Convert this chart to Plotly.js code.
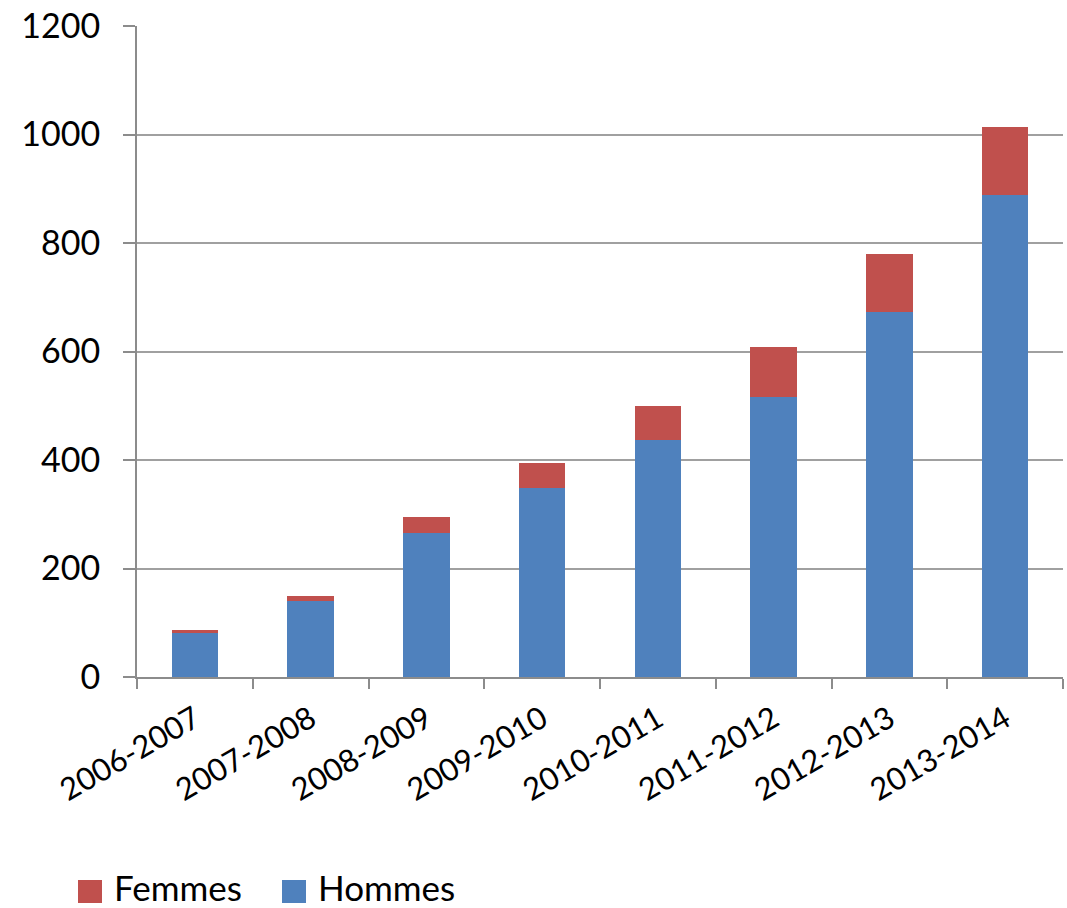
<!DOCTYPE html>
<html>
<head>
<meta charset="utf-8">
<script src="https://cdn.plot.ly/plotly-3.0.1.min.js"></script>
<style>html,body{margin:0;padding:0;background:#fff;}#chart{width:1067px;height:908px;}</style>
</head>
<body>
<div id="chart"></div>
<script>
const categories = ["2006-2007","2007-2008","2008-2009","2009-2010","2010-2011","2011-2012","2012-2013","2013-2014"];
const hommes = [81, 140, 265, 348, 436, 516, 672, 888];
const femmes = [6, 10, 30, 46, 64, 93, 107, 126];
const yTicks = [0, 200, 400, 600, 800, 1000, 1200];
const seriesNames = ["Hommes", "Femmes"];
const seriesColors = ["#4F81BD", "#C0504D"];

const font = "Lato, 'Open Sans', 'Liberation Sans', sans-serif";

const data = [
  {type:'bar', name:seriesNames[0], x:categories, y:hommes, marker:{color:seriesColors[0], line:{width:0}}},
  {type:'bar', name:seriesNames[1], x:categories, y:femmes, marker:{color:seriesColors[1], line:{width:0}}}
];

// Manual legend (larger swatches than Plotly's built-in legend allows)
// plot area: x 137..1063 px, y 26..677 px
const PL = 137, PW = 926, PB = 677, PH = 651;
const px = v => (v - PL) / PW;
const py = v => (PB - v) / PH;
const legendItems = [
  {name: seriesNames[1], color: seriesColors[1], sq: 78, tx: 112},
  {name: seriesNames[0], color: seriesColors[0], sq: 282, tx: 316}
];
const shapes = legendItems.map(it => ({
  type:'rect', xref:'paper', yref:'paper',
  x0: px(it.sq), x1: px(it.sq + 24), y0: py(903), y1: py(880),
  fillcolor: it.color, line:{width:0}
}));
const annotations = legendItems.map(it => ({
  xref:'paper', yref:'paper', x: px(it.tx), y: py(887),
  xanchor:'left', yanchor:'middle', showarrow:false,
  text: it.name, font:{size:35, family:font, color:'#000'}
}));

const layout = {
  width:1067, height:908,
  paper_bgcolor:'#fff', plot_bgcolor:'#fff',
  margin:{l:137, r:4, t:26, b:231},
  barmode:'stack',
  bargap:0.6,
  font:{family:font, color:'#000'},
  xaxis:{
    type:'category',
    showline:true, linecolor:'#8c8c8c', linewidth:2,
    ticks:'outside', tickson:'boundaries', ticklen:10, tickwidth:2, tickcolor:'#8c8c8c',
    tickangle:-30, tickfont:{size:31, family:font},
    ticklabelstandoff:10,
    showgrid:false
  },
  yaxis:{
    range:[0,1200], tickvals:yTicks, ticktext:yTicks.map(String),
    showline:true, linecolor:'#8c8c8c', linewidth:2,
    showgrid:true, gridcolor:'#a0a0a0', gridwidth:2,
    zeroline:false,
    ticks:'outside', ticklen:12, tickwidth:2, tickcolor:'#8c8c8c',
    ticklabelstandoff:16,
    tickfont:{size:34, family:font}
  },
  showlegend:false,
  shapes: shapes,
  annotations: annotations
};

Plotly.newPlot('chart', data, layout, {displayModeBar:false, staticPlot:true});
</script>
</body>
</html>
